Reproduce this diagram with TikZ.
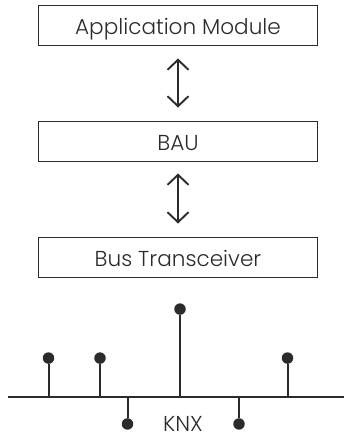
\documentclass[tikz,border=0pt]{standalone}
\usepackage{fontspec}
\setmainfont{Poppins Light}
\usepackage{tikz}
\usetikzlibrary{shapes,arrows.meta,positioning}
\definecolor{ink}{HTML}{2B2B2B}
\tikzstyle{module} = [rectangle, draw=ink, line width=1pt, text=ink, minimum width=279pt, minimum height=40pt, text height=17pt, text depth=0pt, font=\fontsize{21.6}{24}\selectfont]
\tikzstyle{pin} = [circle, fill=ink, inner sep=0pt, minimum size=11.5pt, node distance=0pt]
\tikzstyle{line} = [draw=ink, line width=2pt]
\tikzstyle{link} = [draw=ink, line width=1.9pt, {Straight Barb[length=10pt,width=21pt]}-{Straight Barb[length=10pt,width=21pt]}, shorten >=0.5pt, shorten <=0.5pt]

\begin{document}
\begin{tikzpicture}[x=1pt,y=1pt]
    \useasboundingbox (0,0) rectangle (344,-434);
    \node [module] (app) at (178,-25.5) {Application Module};
    \node [module, below=75pt of app] (bau) {BAU};
    \node [module, below=75pt of bau] (trans) {Bus Transceiver};
    \coordinate (appin) at (178,-58);
    \coordinate (bauout) at (178,-108);
    \coordinate (bauin) at (178,-173);
    \coordinate (transout) at (178,-224);
    \path [link] (appin) -- (bauout);
    \path [link] (bauin) -- (transout);
    % bus
    \coordinate (busl) at (8,-397);
    \coordinate (busr) at (344,-397);
    \coordinate (ta) at (48.5,-397);
    \coordinate (tb) at (100,-397);
    \coordinate (tc) at (127.5,-397);
    \coordinate (td) at (180,-397);
    \coordinate (te) at (239,-397);
    \coordinate (tf) at (287.5,-397);
    \node [pin, above=33pt of ta] (pa) {};
    \node [pin, above=33pt of tb] (pb) {};
    \node [pin, below=21pt of tc] (pc) {};
    \node [pin, above=82pt of td] (pd) {};
    \node [pin, below=21pt of te] (pe) {};
    \node [pin, above=33pt of tf] (pf) {};
    \path [line] (busl) -- (busr);
    \path [line] (pa) -- (ta);
    \path [line] (pb) -- (tb);
    \path [line] (pc) -- (tc);
    \path [line] (pd) -- (td);
    \path [line] (pe) -- (te);
    \path [line] (pf) -- (tf);
    \node [text=ink, anchor=base, inner sep=0pt, font=\fontsize{21.6}{24}\selectfont] (knx) at (183,-431.5) {KNX};
\end{tikzpicture}
\end{document}
